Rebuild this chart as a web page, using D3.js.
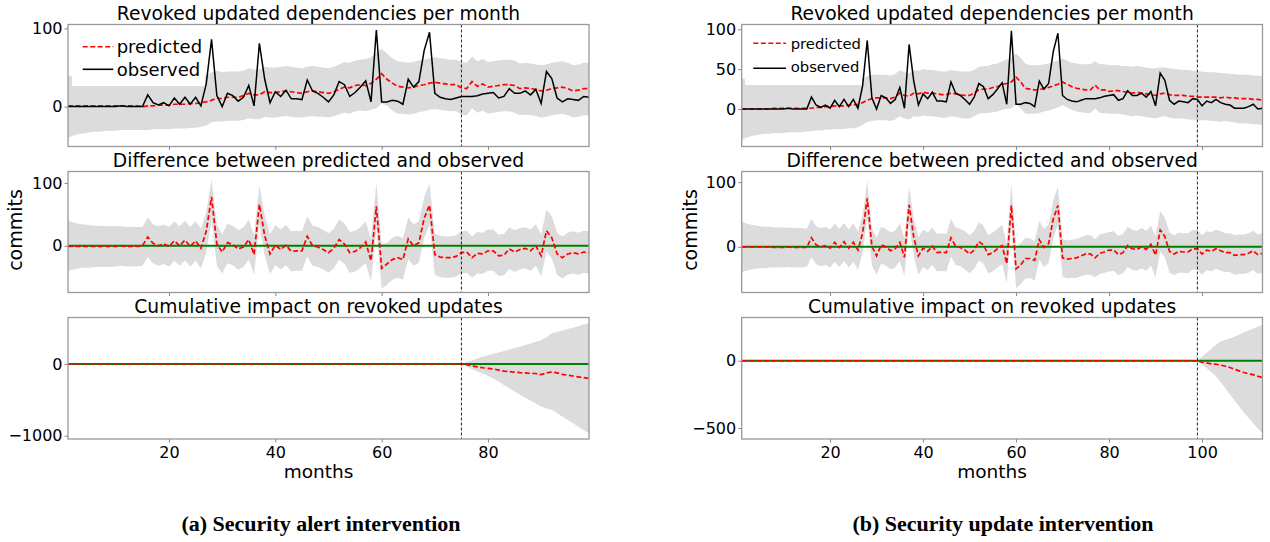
<!DOCTYPE html>
<html>
<head>
<meta charset="utf-8">
<script src="https://cdn.jsdelivr.net/npm/d3@7"></script>
<style>
  body { margin: 0; background: #fff; }
  svg { display: block; }
  text { font-family: "DejaVu Sans", "Liberation Sans", sans-serif; fill: #000; }
  .caption { font-family: "Liberation Serif", serif; font-weight: bold; }
</style>
</head>
<body>
<svg id="chart" width="1270" height="542"></svg>
<script>
// observed revoked updates per month (months 1..113, shared by both figures)
const observed = [
  0, 0, 0, 0, 0, 0, 0, 0, 0, 0,
  1, 0, 0, 0, 0, 15, 5, 2, 5, 1,
  11, 3, 12, 3, 12, 1, 29, 86, 14, 0,
  17, 14, 7, 12, 27, 1, 81, 35, 5, 19,
  13, 21, 10, 10, 9, 34, 20, 17, 12, 6,
  15, 32, 28, 13, 18, 25, 33, 6, 98, 6,
  6, 8, 7, 3, 35, 25, 32, 72, 95, 17,
  12, 10, 9, 11, 13, 13, 13, 14, 16, 17,
  18, 11, 13, 23, 17, 17, 20, 15, 22, 4,
  45, 36, 11, 6, 10, 9, 8, 13, 12, 4,
  10, 8, 12, 8, 6, 5, 1, 1, 1, 3,
  6, 0, 1
];

// (a) security alert intervention, months 1..99
const predictedA = [
  1, 1, 1, 1, 1, 1, 1, 1, 1, 1,
  1, 1, 1, 1, 0, 1, 1, 2, 2, 2,
  3, 3, 3, 4, 4, 5, 6, 8, 11, 10,
  12, 12, 12, 14, 17, 15, 15, 19, 18, 18,
  19, 20, 19, 18, 17, 19, 20, 19, 18, 17,
  19, 22, 25, 24, 27, 28, 27, 30, 35, 42,
  35, 30, 26, 25, 24, 25, 27, 28, 30, 31,
  30, 29, 28, 28, 24, 23, 32, 26, 29, 25,
  26, 27, 28, 28, 27, 23, 24, 23, 22, 20,
  21, 23, 24, 25, 23, 20, 21, 23, 23
];
const lowerA = [
  -40, -37, -35, -34, -33, -32, -32, -31, -31, -31,
  -30, -30, -30, -30, -30, -30, -29, -29, -29, -29,
  -28, -28, -28, -27, -27, -26, -24, -20, -19, -19,
  -18, -18, -18, -17, -15, -16, -16, -13, -14, -14,
  -13, -12, -13, -14, -14, -13, -12, -13, -13, -14,
  -12, -10, -8, -9, -6, -5, -6, -4, -2, 4,
  1, -5, -9, -9, -10, -9, -7, -6, -4, -3,
  -4, -5, -6, -6, -10, -11, -2, -8, -5, -9,
  -8, -7, -6, -6, -8, -11, -10, -11, -12, -14,
  -13, -11, -10, -9, -11, -14, -13, -11, -11
];
const upperA = [
  40, 38, 36, 35, 35, 34, 34, 34, 34, 33,
  33, 33, 33, 33, 32, 33, 33, 34, 34, 34,
  35, 35, 35, 36, 36, 37, 40, 44, 46, 44,
  45, 45, 45, 46, 49, 47, 47, 51, 50, 50,
  51, 52, 51, 50, 49, 51, 52, 51, 50, 49,
  51, 54, 57, 56, 59, 60, 61, 63, 69, 74,
  68, 62, 58, 57, 56, 57, 59, 60, 62, 63,
  62, 61, 60, 60, 57, 56, 64, 58, 61, 57,
  58, 59, 60, 60, 59, 55, 56, 55, 54, 53,
  54, 56, 57, 58, 56, 53, 54, 56, 56
];
// cumulative interval, months 75..99
const cumLowerA = [0, -40, -75, -105, -135, -165, -205, -250, -295, -340, -385, -430, -470,
  -510, -550, -595, -620, -640, -685, -735, -780, -825, -875, -920, -967];
const cumUpperA = [0, 25, 50, 75, 100, 120, 140, 160, 180, 200, 220, 240, 262,
  285, 310, 330, 370, 425, 445, 465, 485, 505, 525, 548, 567];

// (b) security update intervention, months 1..113
const predictedB = [
  0, 0, 0, 0, 0, 0, 0, 1, 1, 1,
  1, 1, 1, 1, 1, 1, 2, 2, 3, 3,
  4, 4, 4, 5, 5, 6, 8, 11, 13, 14,
  14, 14, 13, 15, 20, 17, 16, 20, 19, 21,
  20, 20, 19, 18, 18, 20, 19, 18, 17, 17,
  20, 24, 25, 25, 27, 28, 31, 32, 34, 40,
  34, 26, 25, 24, 24, 26, 27, 29, 31, 34,
  31, 28, 26, 25, 24, 24, 30, 24, 24, 22,
  23, 23, 22, 21, 20, 21, 20, 19, 18, 17,
  19, 20, 18, 17, 17, 17, 16, 16, 15, 15,
  15, 15, 15, 14, 15, 14, 14, 13, 13, 13,
  12, 12, 11
];
const lowerB = [
  -39, -36, -34, -33, -32, -31, -31, -30, -30, -30,
  -29, -29, -29, -29, -28, -28, -27, -27, -26, -26,
  -25, -25, -25, -24, -24, -23, -20, -16, -15, -14,
  -14, -14, -15, -13, -9, -12, -13, -9, -10, -8,
  -9, -9, -10, -11, -11, -9, -10, -11, -12, -12,
  -9, -6, -5, -5, -4, -3, -1, 0, 1, 6,
  1, -6, -6, -6, -5, -3, -2, 0, 2, 5,
  2, -1, -3, -4, -5, -5, 1, -5, -5, -6,
  -6, -6, -7, -8, -9, -8, -9, -10, -11, -12,
  -10, -9, -11, -12, -12, -12, -13, -13, -14, -14,
  -14, -15, -15, -16, -15, -16, -17, -18, -18, -18,
  -19, -19, -20
];
const upperB = [
  39, 37, 35, 34, 33, 33, 32, 32, 32, 32,
  32, 32, 32, 32, 31, 31, 32, 32, 33, 33,
  34, 34, 34, 35, 35, 36, 38, 41, 43, 43,
  43, 43, 42, 44, 49, 46, 45, 49, 48, 50,
  49, 49, 48, 47, 47, 49, 48, 47, 47, 47,
  49, 53, 54, 54, 56, 57, 60, 62, 64, 70,
  64, 57, 55, 55, 55, 56, 57, 59, 61, 63,
  61, 58, 57, 56, 56, 56, 60, 56, 56, 55,
  55, 55, 54, 54, 53, 54, 53, 52, 51, 51,
  52, 52, 51, 50, 50, 49, 49, 48, 47, 47,
  46, 46, 46, 45, 45, 44, 44, 43, 43, 43,
  42, 42, 41
];
// cumulative interval, months 99..113
const cumLowerB = [0, -25, -55, -85, -115, -160, -205, -250, -295, -340, -385, -425, -465, -505, -537];
const cumUpperB = [0, 30, 60, 90, 120, 145, 155, 165, 180, 195, 210, 225, 240, 255, 267];

const titles = [
  "Revoked updated dependencies per month",
  "Difference between predicted and observed",
  "Cumulative impact on revoked updates"
];
const xTicksA = [20, 40, 60, 80];
const xTicksB = [20, 40, 60, 80, 100];

const figs = [
  { key: "a", n: 99, t0: 75, x0: 68, x1: 589, pred: predictedA, lo: lowerA, hi: upperA,
    cumLo: cumLowerA, cumHi: cumUpperA, xTicks: xTicksA,
    yDom: [[-51, 105], [-74.5, 118.5], [-1046, 646]],
    yTicks: [[0, 100], [0, 100], [-1000, 0]],
    labelX: 22, caption: "(a) Security alert intervention", capX: 321,
    legend: { box: [72, 28, 133, 58], lx: [82.7, 113.3], ly: [46.7, 69.3], tx: 116.7, ty: [53.3, 76], fs: 18 } },
  { key: "b", n: 113, t0: 99, x0: 741.7, x1: 1262.5, pred: predictedB, lo: lowerB, hi: upperB,
    cumLo: cumLowerB, cumHi: cumUpperB, xTicks: xTicksB,
    yDom: [[-47, 106], [-70.6, 116.5], [-582, 322]],
    yTicks: [[0, 50, 100], [0, 100], [-500, 0]],
    labelX: 697, caption: "(b) Security update intervention", capX: 1003,
    legend: { box: [745, 27, 117, 58], lx: [753.3, 786], ly: [43.3, 68.3], tx: 790.7, ty: [49.3, 71.7], fs: 14.8 } }
];

const rows = [ { y0: 24.5, y1: 146.5 }, { y0: 171.5, y1: 292.5 }, { y0: 317.5, y1: 439 } ];

const svg = d3.select("#chart");
const fmt = d => d < 0 ? "\u2212" + (-d) : String(d);

function drawPanel(f, ri, x, layers) {
  const row = rows[ri];
  const y = d3.scaleLinear().domain(f.yDom[ri]).range([row.y1, row.y0]);
  const id = "clip-" + f.key + ri;
  svg.append("clipPath").attr("id", id).append("rect")
      .attr("x", f.x0).attr("y", row.y0)
      .attr("width", f.x1 - f.x0).attr("height", row.y1 - row.y0);

  const g = svg.append("g").attr("clip-path", "url(#" + id + ")");
  layers(g, y);

  // intervention marker
  svg.append("line")
      .attr("x1", x(f.t0)).attr("x2", x(f.t0))
      .attr("y1", row.y0).attr("y2", row.y1)
      .attr("stroke", "#222").attr("stroke-width", 1).attr("stroke-dasharray", "3,2");

  // frame
  svg.append("rect")
      .attr("x", f.x0).attr("y", row.y0)
      .attr("width", f.x1 - f.x0).attr("height", row.y1 - row.y0)
      .attr("fill", "none").attr("stroke", "#999").attr("stroke-width", 1.3);

  const ya = svg.append("g").attr("transform", `translate(${f.x0},0)`)
      .call(d3.axisLeft(y).tickValues(f.yTicks[ri]).tickSize(3.5).tickPadding(2).tickFormat(fmt));
  const xa = svg.append("g").attr("transform", `translate(0,${row.y1})`)
      .call(d3.axisBottom(x).tickValues(f.xTicks).tickSize(3.5).tickPadding(4)
        .tickFormat(ri === 2 ? fmt : () => ""));
  [ya, xa].forEach(a => {
    a.select(".domain").remove();
    a.selectAll(".tick line").attr("stroke", "#888");
    a.selectAll(".tick text").attr("font-size", 16).attr("font-family", "DejaVu Sans");
  });

  svg.append("text")
      .attr("x", (f.x0 + f.x1) / 2 - 10).attr("y", row.y0 - 4.5)
      .attr("text-anchor", "middle").attr("font-size", 18.7)
      .text(titles[ri]);
  return y;
}

figs.forEach(f => {
  const months = d3.range(1, f.n + 1);
  const obs = observed.slice(0, f.n);
  const x = d3.scaleLinear().domain([1, f.n]).range([f.x0, f.x1]);

  const diff = months.map((m, i) => obs[i] - f.pred[i]);
  const diffLo = months.map((m, i) => obs[i] - f.hi[i]);
  const diffHi = months.map((m, i) => obs[i] - f.lo[i]);
  let run = 0;
  const cum = months.map((m, i) => { if (m > f.t0) run += diff[i]; return run; });
  const cumMonths = d3.range(f.t0, f.n + 1);

  const band = (g, y, xs, lo, hi) => g.append("path")
      .datum(xs)
      .attr("fill", "#dcdcdc")
      .attr("d", d3.area().x(m => x(m)).y0((m, i) => y(lo[i])).y1((m, i) => y(hi[i])));
  const line = (g, y, xs, vals, color, width, dash) => g.append("path")
      .datum(xs)
      .attr("fill", "none").attr("stroke", color).attr("stroke-width", width)
      .attr("stroke-dasharray", dash)
      .attr("d", d3.line().x(m => x(m)).y((m, i) => y(vals[i])));
  const zero = (g, y) => g.append("line")
      .attr("x1", f.x0).attr("x2", f.x1).attr("y1", y(0)).attr("y2", y(0))
      .attr("stroke", "green").attr("stroke-width", 2);

  // Top: predicted vs observed
  drawPanel(f, 0, x, (g, y) => {
    band(g, y, months, f.lo, f.hi);
    line(g, y, months, f.pred, "red", 1.7, "5,2.5");
    line(g, y, months, obs, "#000", 1.5, null);
  });

  // Legend
  const L = f.legend;
  svg.append("rect").attr("x", L.box[0]).attr("y", L.box[1])
      .attr("width", L.box[2]).attr("height", L.box[3]).attr("fill", "#fff");
  [["predicted", "red", "5,2.5"], ["observed", "#000", null]].forEach((d, i) => {
    svg.append("line").attr("x1", L.lx[0]).attr("x2", L.lx[1])
        .attr("y1", L.ly[i]).attr("y2", L.ly[i])
        .attr("stroke", d[1]).attr("stroke-width", 1.6).attr("stroke-dasharray", d[2]);
    svg.append("text").attr("x", L.tx).attr("y", L.ty[i])
        .attr("font-size", L.fs).text(d[0]);
  });

  // Middle: pointwise difference
  drawPanel(f, 1, x, (g, y) => {
    band(g, y, months, diffLo, diffHi);
    zero(g, y);
    line(g, y, months, diff, "red", 1.7, "5,2.5");
  });

  // Bottom: cumulative effect
  drawPanel(f, 2, x, (g, y) => {
    band(g, y, cumMonths, f.cumLo, f.cumHi);
    zero(g, y);
    line(g, y, months, cum, "red", 1.7, "5,2.5");
  });

  svg.append("text")
      .attr("transform", `translate(${f.labelX},230) rotate(-90)`)
      .attr("text-anchor", "middle").attr("font-size", 19)
      .text("commits");

  svg.append("text")
      .attr("x", (f.x0 + f.x1) / 2 - 10).attr("y", 478.3)
      .attr("text-anchor", "middle").attr("font-size", 18.5)
      .text("months");

  svg.append("text")
      .attr("class", "caption")
      .attr("transform", `translate(${f.capX},531) scale(1.1,1)`)
      .attr("text-anchor", "middle").attr("font-size", 20)
      .text(f.caption);
});
</script>
</body>
</html>
